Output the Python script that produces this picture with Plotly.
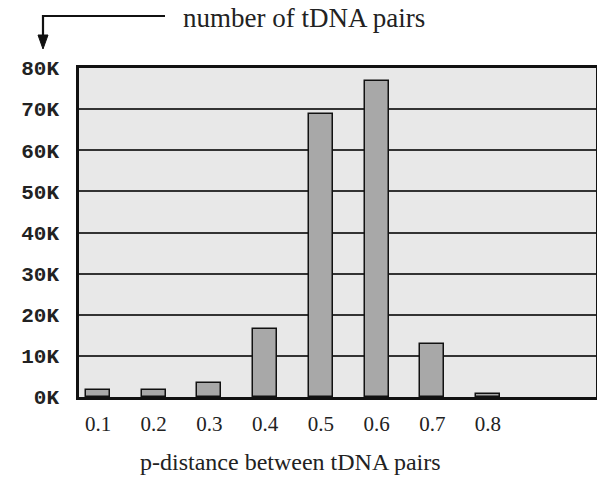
import plotly.graph_objects as go

categories = [0.1, 0.2, 0.3, 0.4, 0.5, 0.6, 0.7, 0.8]
category_labels = ["0.1", "0.2", "0.3", "0.4", "0.5", "0.6", "0.7", "0.8"]
pair_counts = [1700, 1700, 3500, 16500, 68900, 76800, 12800, 700]
y_tick_values = [0, 10000, 20000, 30000, 40000, 50000, 60000, 70000, 80000]
y_tick_labels = ["0K", "10K", "20K", "30K", "40K", "50K", "60K", "70K", "80K"]

W, H = 597, 482
L, R, T, B = 79, 1, 68, 85

fig = go.Figure()
fig.add_trace(go.Bar(
    x=categories, y=pair_counts, width=0.043,
    marker=dict(color="#a8a8a8", line=dict(color="#111111", width=1.5)),
    showlegend=False, hoverinfo="skip",
))

serif = "Liberation Serif, Times New Roman, serif"
pw, ph = W - L - R, H - T - B
def px(xp): return (xp - L) / pw
def py(yp): return (H - B - yp) / ph

fig.update_layout(
    width=W, height=H,
    margin=dict(l=L, r=R, t=T, b=B, autoexpand=False),
    paper_bgcolor="white", plot_bgcolor="#e8e8e8",
    bargap=0,
    xaxis=dict(
        range=[0.0659, 0.9939], automargin=False,
        tickvals=categories, ticktext=category_labels,
        tickfont=dict(family=serif, size=21, color="#222"),
        ticks="outside", ticklen=6, tickcolor="rgba(0,0,0,0)",
        showgrid=False, zeroline=False,
        showline=True, linecolor="#111", linewidth=2.5, mirror=True,
    ),
    yaxis=dict(
        range=[0, 80000], automargin=False,
        tickvals=y_tick_values, ticktext=y_tick_labels,
        tickfont=dict(family="Liberation Mono, Courier New, monospace", size=21,
                      color="#222", weight="bold"),
        ticks="outside", ticklen=13, tickcolor="rgba(0,0,0,0)",
        showgrid=True, gridcolor="#333", gridwidth=1.5,
        zeroline=False,
        showline=True, linecolor="#111", linewidth=2.5, mirror=True,
    ),
    annotations=[
        dict(text="number of tDNA pairs", xref="paper", yref="paper",
             x=px(181), y=py(18), xanchor="left", yanchor="middle",
             showarrow=False, font=dict(family=serif, size=27, color="#222")),
        dict(text="p-distance between tDNA pairs", xref="paper", yref="paper",
             x=px(290), y=py(462), xanchor="center", yanchor="middle",
             showarrow=False, font=dict(family=serif, size=24, color="#222")),
    ],
)

# bracket arrow pointing down to the y-axis labels (paper coordinates)
fig.add_shape(type="path", xref="paper", yref="paper",
              path=f"M {px(165)} {py(16)} L {px(43)} {py(16)} L {px(43)} {py(38)}",
              line=dict(color="#111", width=2.2))
fig.add_shape(type="path", xref="paper", yref="paper",
              path=f"M {px(38)} {py(35)} L {px(48)} {py(35)} L {px(43)} {py(49)} Z",
              line=dict(color="#111", width=1), fillcolor="#111")

fig.write_html("out.html", config={"displayModeBar": False},
               post_script="document.body.style.margin='0';")
